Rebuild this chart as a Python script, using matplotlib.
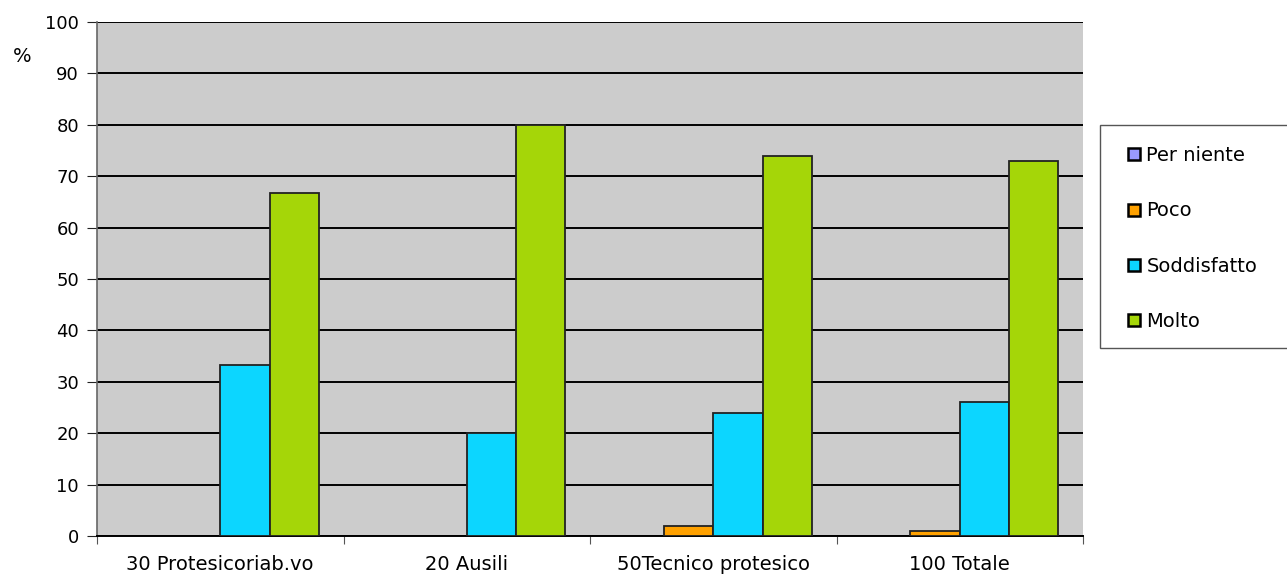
import matplotlib
matplotlib.use("Agg")
import matplotlib.pyplot as plt
from matplotlib.patches import Rectangle
from matplotlib.lines import Line2D
import numpy as np

categories = ["30 Protesicoriab.vo", "20 Ausili", "50Tecnico protesico", "100 Totale"]
series_names = ["Per niente", "Poco", "Soddisfatto", "Molto"]
per_niente = [0, 0, 0, 0]
poco = [0, 0, 2, 1]
soddisfatto = [33.3, 20, 24, 26]
molto = [66.7, 80, 74, 73]
colors = ["#9999FF", "#FFA100", "#0CD6FF", "#A5D608"]
yticks = list(range(0, 101, 10))

plt.rcParams['font.family'] = ['DejaVu Sans']
fig = plt.figure(figsize=(12.87, 5.76), dpi=100)
ax = fig.add_axes([97/1287, 1-536/576, (1083-97)/1287, (536-22)/576])
ax.set_facecolor("#CCCCCC")

x = np.arange(len(categories))
w = 0.2
data = [per_niente, poco, soddisfatto, molto]
for i, (vals, c) in enumerate(zip(data, colors)):
    vals = np.asarray(vals, dtype=float)
    lw = np.where(vals > 0, 1.3, 0.0)
    ax.bar(x + (i - 1.5) * w, vals, width=w, color=c, edgecolor="#222222",
           linewidth=lw, zorder=3)

ax.set_xlim(-0.5, len(categories) - 0.5)
ax.set_ylim(0, 100)
ax.set_yticks(yticks)
ax.set_yticklabels([str(t) for t in yticks], fontsize=13)
ax.yaxis.grid(True, color="black", linewidth=1.4, zorder=1)
ax.set_axisbelow(True)

ax.set_xticks(np.arange(-0.5, len(categories), 1.0))
ax.set_xticklabels([])
ax.set_xticks(x, minor=True)
ax.set_xticklabels(categories, minor=True, fontsize=14)
ax.tick_params(axis='x', which='minor', length=0, pad=14)
ax.tick_params(axis='x', which='major', length=6, direction='out', color="#555555")
ax.tick_params(axis='y', length=7, direction='out', color="#222222", pad=6)

ax.spines["left"].set_color("#666666")
ax.spines["left"].set_linewidth(1.2)
ax.spines["right"].set_visible(False)
ax.spines["top"].set_visible(False)
ax.spines["bottom"].set_color("black")
ax.spines["bottom"].set_linewidth(1.4)

fig.text(22/1287, 1-57/576, "%", fontsize=14, ha="center", va="center")

# legend box
fig.patches.append(Rectangle((1100/1287, 1-348/576), (1300-1100)/1287, (348-125)/576,
                             transform=fig.transFigure, facecolor="white",
                             edgecolor="#555555", linewidth=1.0))
handles = [Line2D([0], [0], marker="s", linestyle="none", markersize=8,
                  markerfacecolor=c, markeredgecolor="black", markeredgewidth=1.8)
           for c in colors]
fig.legend(handles, series_names, loc="upper left",
           bbox_to_anchor=(1127/1287, 1-146/576), frameon=False,
           fontsize=14, handlelength=0.7, handletextpad=0.3,
           labelspacing=1.87, borderaxespad=0, borderpad=0)

fig.savefig("out.png", dpi=100)
